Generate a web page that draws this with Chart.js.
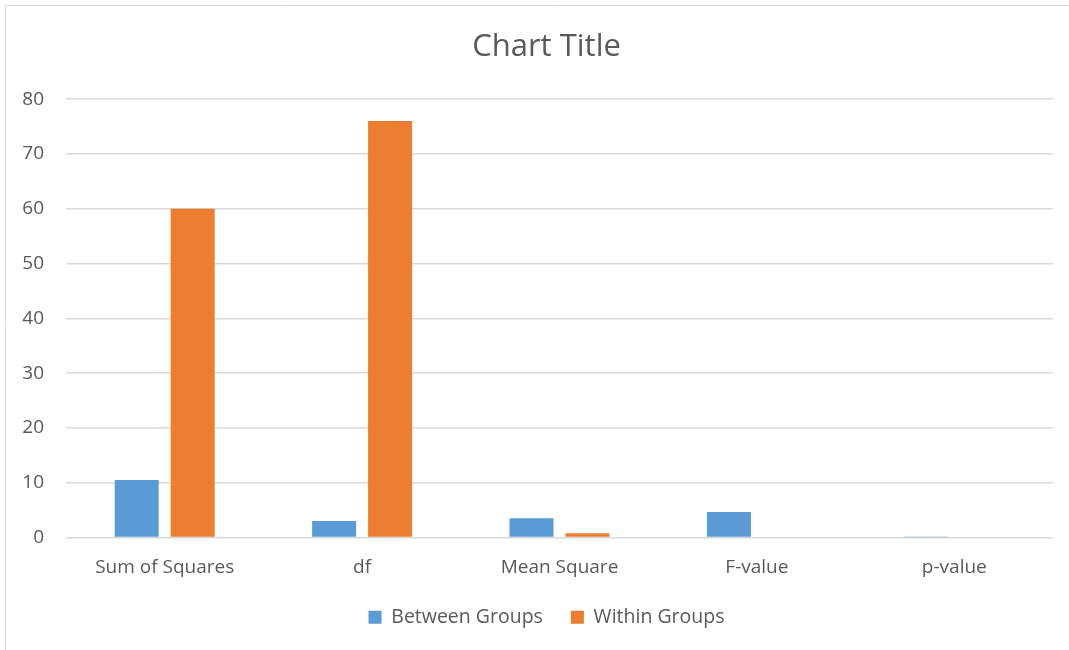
<!DOCTYPE html>
<html>
<head>
<meta charset="utf-8">
<script src="https://cdn.jsdelivr.net/npm/chart.js@4.4.1/dist/chart.umd.min.js"></script>
<style>
  html, body { margin: 0; padding: 0; background: #fff; overflow: hidden; }
  #wrap { position: relative; width: 1109px; height: 650px; }
</style>
</head>
<body>
<div id="wrap"><canvas id="anova"></canvas></div>
<script>
const categories = ['Sum of Squares', 'df', 'Mean Square', 'F-value', 'p-value'];
const betweenGroups = [10.5, 3, 3.5, 4.65, 0.03];
const withinGroups = [60, 76, 0.79, null, null];
const yTicks = [0, 10, 20, 30, 40, 50, 60, 70, 80];

const FONT = "'Open Sans', 'Liberation Sans', sans-serif";
const TEXT = '#595959';
const GRID = '#d9d9d9';

// thin frame along the top and left edge of the chart object
const framePlugin = {
  id: 'frame',
  beforeDraw(chart) {
    const c = chart.ctx;
    c.save();
    c.strokeStyle = GRID;
    c.lineWidth = 1;
    c.beginPath();
    c.moveTo(5.5, chart.height);
    c.lineTo(5.5, 5.5);
    c.lineTo(chart.width, 5.5);
    c.stroke();
    c.restore();
  }
};

new Chart(document.getElementById('anova'), {
  type: 'bar',
  data: {
    labels: categories,
    datasets: [
      { label: 'Between Groups', data: betweenGroups, backgroundColor: '#5b9bd5' },
      { label: 'Within Groups', data: withinGroups, backgroundColor: '#ed7d31' }
    ]
  },
  plugins: [framePlugin],
  options: {
    responsive: true,
    maintainAspectRatio: false,
    animation: false,
    categoryPercentage: 0.567,
    barPercentage: 0.786,
    layout: { padding: { left: 0, right: 16, top: 0, bottom: 13 } },
    plugins: {
      title: {
        display: true,
        text: 'Chart Title',
        color: TEXT,
        font: { family: FONT, size: 31, weight: 'normal', lineHeight: 1.2 },
        padding: { top: 29, bottom: 33 }
      },
      legend: {
        position: 'bottom',
        labels: {
          color: TEXT,
          boxWidth: 13,
          boxHeight: 13,
          padding: 28,
          font: { family: FONT, size: 19.5 }
        }
      },
      tooltip: { enabled: false }
    },
    scales: {
      x: {
        afterFit(scale) { scale.height = 42; },
        grid: { display: false, drawTicks: false },
        border: { display: false },
        ticks: { color: TEXT, padding: 18.6, font: { family: FONT, size: 19 } }
      },
      y: {
        min: 0,
        max: 80,
        afterFit(scale) { scale.width = 66; },
        afterBuildTicks(scale) { scale.ticks = yTicks.map(v => ({ value: v })); },
        grid: { color: GRID, lineWidth: 1.5, drawTicks: false },
        border: { display: false },
        ticks: { color: TEXT, padding: 22, font: { family: FONT, size: 19 } }
      },
      // empty spacer on the right so the title and legend sit centred on the frame
      spacer: {
        position: 'right',
        min: 0,
        max: 80,
        afterFit(scale) { scale.width = 40; },
        grid: { display: false, drawTicks: false },
        border: { display: false },
        ticks: { display: false }
      }
    }
  }
});
</script>
</body>
</html>
